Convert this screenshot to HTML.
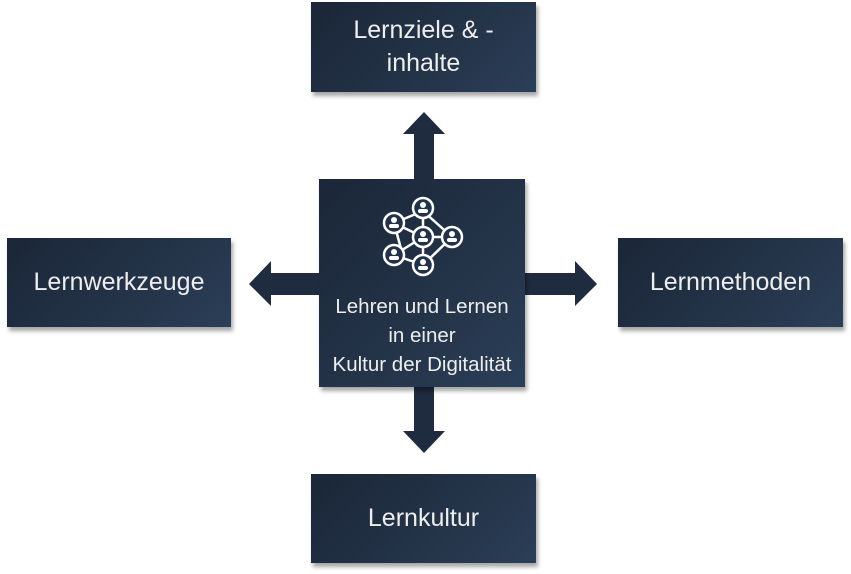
<!DOCTYPE html>
<html><head><style>
body{margin:0;width:851px;height:574px;background:#fff;overflow:hidden;position:relative;font-family:"Liberation Sans",sans-serif}
.b{position:absolute;background:linear-gradient(135deg,#1b2638 0%,#243449 60%,#2b3f58 100%);color:#eeeeee;display:flex;align-items:center;justify-content:center;text-align:center;box-shadow:2px 4px 4px rgba(0,0,0,.35);font-size:25px;line-height:33px}
svg{position:absolute;left:0;top:0}
</style></head><body>
<svg width="851" height="574">
<g fill="#1f2c40">
<polygon points="414,180 414,134 403,134 424,112 445,134 434,134 434,180"/>
<polygon points="414,386 414,431 403,431 424,453 445,431 434,431 434,386"/>
<polygon points="320,273 271,273 271,261 249,284 271,306 271,295 320,295"/>
<polygon points="524,273 575,273 575,261 597,284 575,306 575,295 524,295"/>
</g>
</svg>
<div class="b" style="left:311px;top:2px;width:225px;height:90px">Lernziele &amp; -<br>inhalte</div>
<div class="b" style="left:7px;top:238px;width:224px;height:89px">Lernwerkzeuge</div>
<div class="b" style="left:618px;top:238px;width:225px;height:89px">Lernmethoden</div>
<div class="b" style="left:311px;top:474px;width:225px;height:89px">Lernkultur</div>
<div class="b" style="left:319px;top:179px;width:206px;height:208px;display:block;font-size:20.5px;line-height:29px">
<svg width="206" height="110" style="position:absolute;left:0;top:0" stroke="#fff" stroke-width="2.5" fill="none">
<g>
<line x1="75" y1="44" x2="104" y2="32"/><line x1="75" y1="44" x2="104" y2="58"/><line x1="75" y1="44" x2="84" y2="77"/>
<line x1="104" y1="32" x2="133" y2="58"/><line x1="104" y1="32" x2="104" y2="58"/><line x1="104" y1="58" x2="133" y2="58"/>
<line x1="104" y1="58" x2="104" y2="86"/><line x1="133" y1="58" x2="104" y2="86"/><line x1="75" y1="76" x2="104" y2="86"/><line x1="75" y1="76" x2="104" y2="58"/>
</g>
<g fill="#223248">
<circle cx="75" cy="44" r="10"/><circle cx="104" cy="29" r="10"/><circle cx="104" cy="58" r="10"/><circle cx="133" cy="58" r="10"/><circle cx="75" cy="76" r="10"/><circle cx="104" cy="86" r="10"/>
</g>
<g fill="#fff" stroke="none">
<circle cx="75" cy="41" r="3"/><rect x="70" y="45" width="10" height="4" rx="2"/>
<circle cx="104" cy="26" r="3"/><rect x="99" y="30" width="10" height="4" rx="2"/>
<circle cx="104" cy="55" r="3"/><rect x="99" y="59" width="10" height="4" rx="2"/>
<circle cx="133" cy="55" r="3"/><rect x="128" y="59" width="10" height="4" rx="2"/>
<circle cx="75" cy="73" r="3"/><rect x="70" y="77" width="10" height="4" rx="2"/>
<circle cx="104" cy="83" r="3"/><rect x="99" y="87" width="10" height="4" rx="2"/>
</g>
</svg>
<div style="position:absolute;left:-10px;right:-10px;top:113px">Lehren und Lernen<br>in einer<br>Kultur der Digitalität</div>
</div>
</body></html>
